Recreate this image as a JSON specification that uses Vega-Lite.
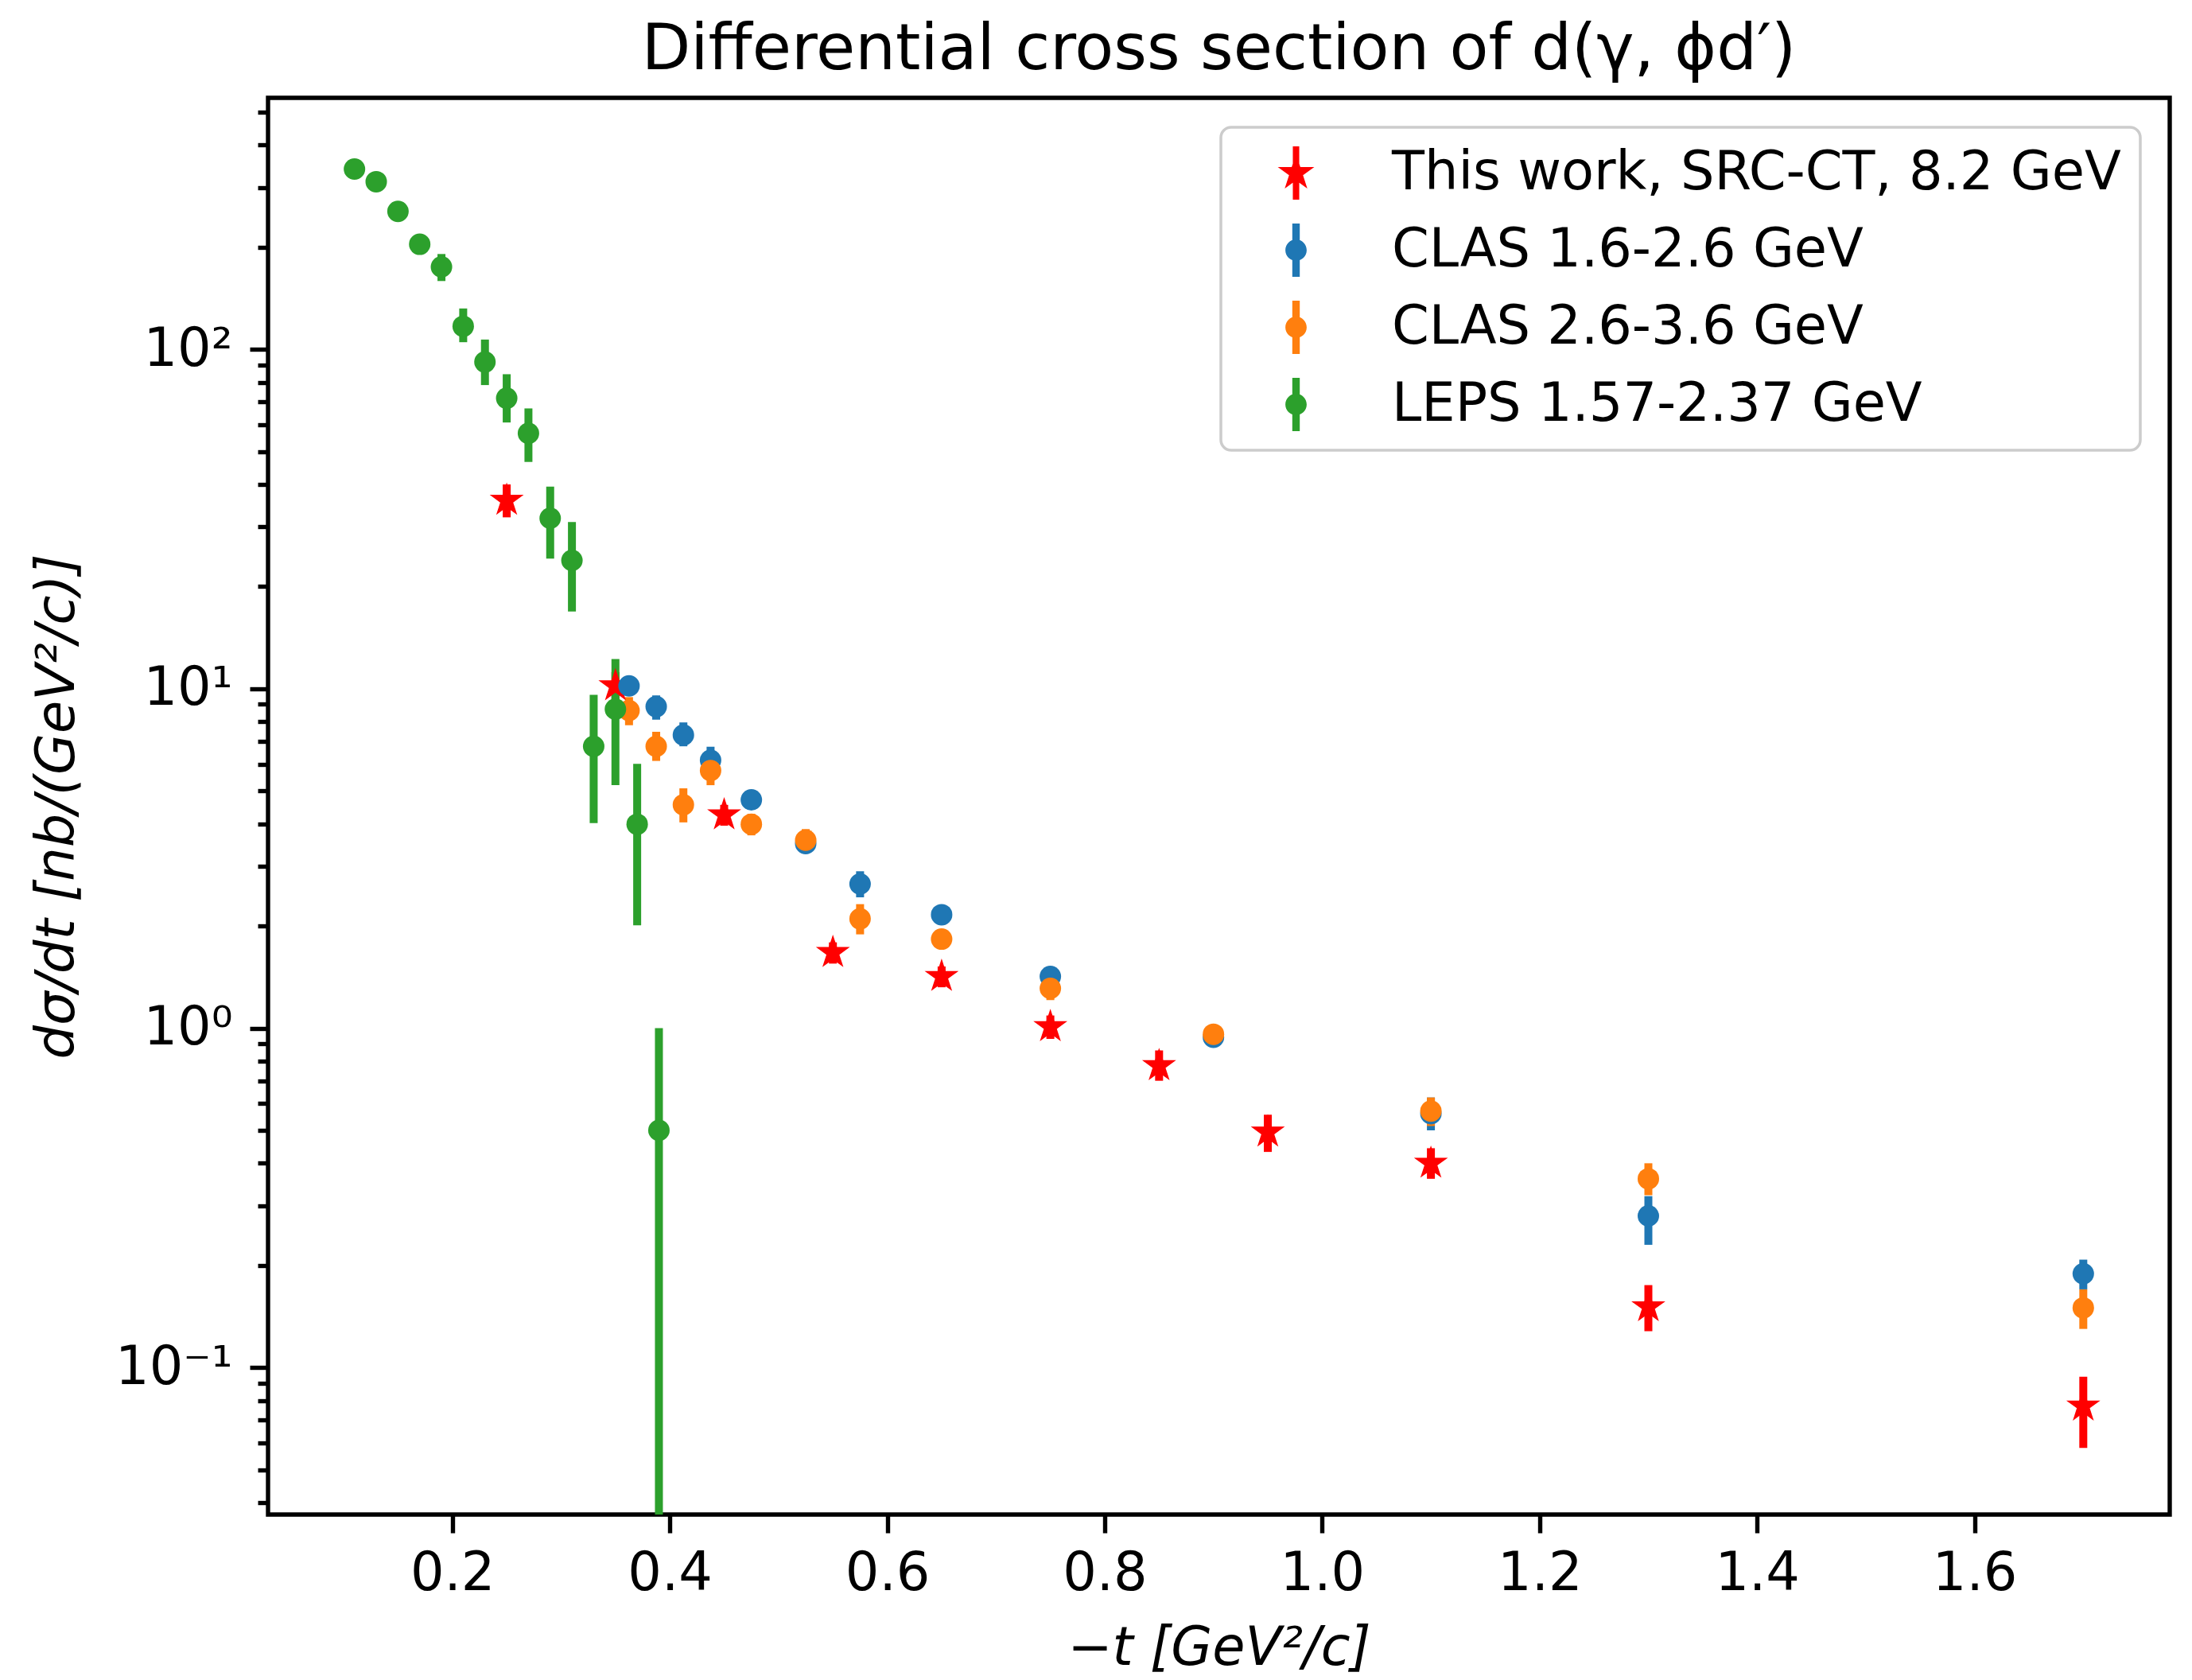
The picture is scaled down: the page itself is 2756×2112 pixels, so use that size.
{
  "$schema": "https://vega.github.io/schema/vega-lite/v6.json",
  "width": 2391,
  "height": 1781,
  "autosize": {"type": "none"},
  "padding": {"left": 337, "top": 123, "right": 28, "bottom": 208},
  "background": "white",
  "config": {
    "view": {"stroke": "black", "strokeWidth": 5.4},
    "font": "DejaVu Sans",
    "axis": {
      "grid": false, "domain": false, "tickColor": "black", "tickWidth": 5.4,
      "labelColor": "black", "labelFont": "DejaVu Sans", "labelFontSize": 67,
      "titleFont": "DejaVu Sans", "titleFontSize": 67, "titleFontWeight": "normal",
      "titleFontStyle": "italic", "titleColor": "black"
    }
  },
  "title": {
    "text": "Differential cross section of d(γ, ϕd′)",
    "fontSize": 80, "font": "DejaVu Sans", "fontWeight": "normal",
    "anchor": "middle", "frame": "group", "offset": 3, "color": "black"
  },
  "data": {
    "values": [
      {"series": "This work, SRC-CT, 8.2 GeV", "t": 0.25, "v": 35.9, "lo": 32.0, "hi": 40.0},
      {"series": "This work, SRC-CT, 8.2 GeV", "t": 0.35, "v": 10.2, "lo": 9.2, "hi": 11.2},
      {"series": "This work, SRC-CT, 8.2 GeV", "t": 0.45, "v": 4.25, "lo": 3.95, "hi": 4.55},
      {"series": "This work, SRC-CT, 8.2 GeV", "t": 0.55, "v": 1.67, "lo": 1.55, "hi": 1.79},
      {"series": "This work, SRC-CT, 8.2 GeV", "t": 0.65, "v": 1.42, "lo": 1.32, "hi": 1.52},
      {"series": "This work, SRC-CT, 8.2 GeV", "t": 0.75, "v": 1.01, "lo": 0.93, "hi": 1.09},
      {"series": "This work, SRC-CT, 8.2 GeV", "t": 0.85, "v": 0.775, "lo": 0.70, "hi": 0.86},
      {"series": "This work, SRC-CT, 8.2 GeV", "t": 0.95, "v": 0.494, "lo": 0.432, "hi": 0.556},
      {"series": "This work, SRC-CT, 8.2 GeV", "t": 1.10, "v": 0.40, "lo": 0.36, "hi": 0.443},
      {"series": "This work, SRC-CT, 8.2 GeV", "t": 1.30, "v": 0.151, "lo": 0.128, "hi": 0.175},
      {"series": "This work, SRC-CT, 8.2 GeV", "t": 1.70, "v": 0.077, "lo": 0.058, "hi": 0.094},
      {"series": "CLAS 1.6-2.6 GeV", "t": 0.3625, "v": 10.2, "lo": 9.7, "hi": 10.7},
      {"series": "CLAS 1.6-2.6 GeV", "t": 0.3875, "v": 8.86, "lo": 8.11, "hi": 9.56},
      {"series": "CLAS 1.6-2.6 GeV", "t": 0.4125, "v": 7.31, "lo": 6.77, "hi": 7.96},
      {"series": "CLAS 1.6-2.6 GeV", "t": 0.4375, "v": 6.16, "lo": 5.65, "hi": 6.75},
      {"series": "CLAS 1.6-2.6 GeV", "t": 0.475, "v": 4.71, "lo": 4.45, "hi": 4.97},
      {"series": "CLAS 1.6-2.6 GeV", "t": 0.525, "v": 3.50, "lo": 3.30, "hi": 3.70},
      {"series": "CLAS 1.6-2.6 GeV", "t": 0.575, "v": 2.66, "lo": 2.43, "hi": 2.90},
      {"series": "CLAS 1.6-2.6 GeV", "t": 0.65, "v": 2.16, "lo": 2.02, "hi": 2.30},
      {"series": "CLAS 1.6-2.6 GeV", "t": 0.75, "v": 1.42, "lo": 1.32, "hi": 1.52},
      {"series": "CLAS 1.6-2.6 GeV", "t": 0.90, "v": 0.94, "lo": 0.89, "hi": 0.99},
      {"series": "CLAS 1.6-2.6 GeV", "t": 1.10, "v": 0.56, "lo": 0.50, "hi": 0.625},
      {"series": "CLAS 1.6-2.6 GeV", "t": 1.30, "v": 0.28, "lo": 0.23, "hi": 0.32},
      {"series": "CLAS 1.6-2.6 GeV", "t": 1.70, "v": 0.189, "lo": 0.170, "hi": 0.208},
      {"series": "CLAS 2.6-3.6 GeV", "t": 0.3625, "v": 8.63, "lo": 7.81, "hi": 9.45},
      {"series": "CLAS 2.6-3.6 GeV", "t": 0.3875, "v": 6.77, "lo": 6.13, "hi": 7.47},
      {"series": "CLAS 2.6-3.6 GeV", "t": 0.4125, "v": 4.55, "lo": 4.04, "hi": 5.09},
      {"series": "CLAS 2.6-3.6 GeV", "t": 0.4375, "v": 5.74, "lo": 5.20, "hi": 6.30},
      {"series": "CLAS 2.6-3.6 GeV", "t": 0.475, "v": 3.99, "lo": 3.70, "hi": 4.28},
      {"series": "CLAS 2.6-3.6 GeV", "t": 0.525, "v": 3.58, "lo": 3.30, "hi": 3.86},
      {"series": "CLAS 2.6-3.6 GeV", "t": 0.575, "v": 2.10, "lo": 1.89, "hi": 2.32},
      {"series": "CLAS 2.6-3.6 GeV", "t": 0.65, "v": 1.83, "lo": 1.72, "hi": 1.94},
      {"series": "CLAS 2.6-3.6 GeV", "t": 0.75, "v": 1.31, "lo": 1.21, "hi": 1.41},
      {"series": "CLAS 2.6-3.6 GeV", "t": 0.90, "v": 0.96, "lo": 0.91, "hi": 1.01},
      {"series": "CLAS 2.6-3.6 GeV", "t": 1.10, "v": 0.57, "lo": 0.515, "hi": 0.625},
      {"series": "CLAS 2.6-3.6 GeV", "t": 1.30, "v": 0.36, "lo": 0.322, "hi": 0.40},
      {"series": "CLAS 2.6-3.6 GeV", "t": 1.70, "v": 0.150, "lo": 0.130, "hi": 0.170},
      {"series": "LEPS 1.57-2.37 GeV", "t": 0.11, "v": 340, "lo": 330, "hi": 350},
      {"series": "LEPS 1.57-2.37 GeV", "t": 0.13, "v": 312, "lo": 302, "hi": 322},
      {"series": "LEPS 1.57-2.37 GeV", "t": 0.15, "v": 255, "lo": 246, "hi": 264},
      {"series": "LEPS 1.57-2.37 GeV", "t": 0.17, "v": 204, "lo": 195, "hi": 213},
      {"series": "LEPS 1.57-2.37 GeV", "t": 0.19, "v": 175, "lo": 159, "hi": 191},
      {"series": "LEPS 1.57-2.37 GeV", "t": 0.21, "v": 117, "lo": 105, "hi": 132},
      {"series": "LEPS 1.57-2.37 GeV", "t": 0.23, "v": 91.8, "lo": 78.5, "hi": 106.9},
      {"series": "LEPS 1.57-2.37 GeV", "t": 0.25, "v": 71.8, "lo": 60.9, "hi": 84.5},
      {"series": "LEPS 1.57-2.37 GeV", "t": 0.27, "v": 56.6, "lo": 46.6, "hi": 67.0},
      {"series": "LEPS 1.57-2.37 GeV", "t": 0.29, "v": 31.8, "lo": 24.2, "hi": 39.4},
      {"series": "LEPS 1.57-2.37 GeV", "t": 0.31, "v": 23.9, "lo": 16.9, "hi": 31.0},
      {"series": "LEPS 1.57-2.37 GeV", "t": 0.33, "v": 6.77, "lo": 4.02, "hi": 9.6},
      {"series": "LEPS 1.57-2.37 GeV", "t": 0.35, "v": 8.71, "lo": 5.2, "hi": 12.24},
      {"series": "LEPS 1.57-2.37 GeV", "t": 0.37, "v": 3.99, "lo": 2.01, "hi": 6.01},
      {"series": "LEPS 1.57-2.37 GeV", "t": 0.39, "v": 0.5, "lo": 0.0001, "hi": 1.0}
    ]
  },
  "layer": [
    {
      "mark": {"type": "rule", "strokeWidth": 10, "clip": true},
      "encoding": {
        "x": {
          "field": "t", "type": "quantitative",
          "scale": {"domain": [0.0305, 1.7795], "nice": false, "zero": false},
          "axis": {
            "title": "−t [GeV²/c]",
            "values": [0.2, 0.4, 0.6, 0.8, 1.0, 1.2, 1.4, 1.6],
            "format": ".1f", "tickSize": 23, "labelPadding": 18,
            "titlePadding": 28, "labelFlush": false
          }
        },
        "y": {
          "field": "lo", "type": "quantitative",
          "scale": {"type": "log", "domain": [0.0369, 551], "nice": false},
          "axis": {
            "title": "dσ/dt [nb/(GeV²/c)]",
            "values": [0.04, 0.05, 0.06, 0.07, 0.08, 0.09, 0.1, 0.2, 0.3, 0.4, 0.5, 0.6, 0.7, 0.8, 0.9, 1, 2, 3, 4, 5, 6, 7, 8, 9, 10, 20, 30, 40, 50, 60, 70, 80, 90, 100, 200, 300, 400, 500],
            "labelExpr": "datum.value == 100 ? '10²' : datum.value == 10 ? '10¹' : datum.value == 1 ? '10⁰' : datum.value == 0.1 ? '10⁻¹' : ''",
            "tickSize": {"condition": {"test": "abs(log(datum.value)/LN10 - round(log(datum.value)/LN10)) < 0.001", "value": 23}, "value": 13},
            "labelPadding": 22, "titlePadding": 38, "labelOverlap": false
          }
        },
        "y2": {"field": "hi"},
        "color": {
          "condition": [
            {"test": "datum.series === 'This work, SRC-CT, 8.2 GeV'", "value": "#ff0000"},
            {"test": "datum.series === 'CLAS 1.6-2.6 GeV'", "value": "#1f77b4"},
            {"test": "datum.series === 'CLAS 2.6-3.6 GeV'", "value": "#ff7f0e"}
          ],
          "value": "#2ca02c"
        }
      }
    },
    {
      "mark": {"type": "point", "filled": true, "opacity": 0},
      "encoding": {
        "x": {"field": "t", "type": "quantitative"},
        "y": {"field": "v", "type": "quantitative"},
        "color": {
          "field": "series", "type": "nominal",
          "scale": {
            "domain": ["This work, SRC-CT, 8.2 GeV", "CLAS 1.6-2.6 GeV", "CLAS 2.6-3.6 GeV", "LEPS 1.57-2.37 GeV"],
            "range": ["#ff0000", "#1f77b4", "#ff7f0e", "#2ca02c"]
          },
          "legend": {
            "title": null, "orient": "top-right", "offset": 37, "padding": 24, "rowPadding": 29,
            "symbolSize": 4489, "symbolOpacity": 1, "symbolStrokeWidth": 0, "symbolOffset": 37,
            "labelOffset": 87, "labelFontSize": 67, "labelFont": "DejaVu Sans", "labelColor": "black",
            "labelLimit": 2000, "fillColor": "white", "strokeColor": "#cccccc",
            "cornerRadius": 13,
            "encode": {"legend": {"update": {"strokeWidth": {"value": 3.5}}}}
          }
        },
        "shape": {
          "field": "series", "type": "nominal",
          "scale": {
            "domain": ["This work, SRC-CT, 8.2 GeV", "CLAS 1.6-2.6 GeV", "CLAS 2.6-3.6 GeV", "LEPS 1.57-2.37 GeV"],
            "range": [
              "M-0.12,-1L0.12,-1L0.12,1L-0.12,1Z M0,-0.72L0.162,-0.223L0.685,-0.223L0.262,0.085L0.423,0.582L0,0.275L-0.423,0.582L-0.262,0.085L-0.685,-0.223L-0.162,-0.223Z",
              "M-0.14,-1L0.14,-1L0.14,1L-0.14,1Z M0.4,0A0.4,0.4 0 1,1 -0.4,0A0.4,0.4 0 1,1 0.4,0Z",
              "M-0.14,-1L0.14,-1L0.14,1L-0.14,1Z M0.4,0A0.4,0.4 0 1,1 -0.4,0A0.4,0.4 0 1,1 0.4,0Z",
              "M-0.14,-1L0.14,-1L0.14,1L-0.14,1Z M0.4,0A0.4,0.4 0 1,1 -0.4,0A0.4,0.4 0 1,1 0.4,0Z"
            ]
          },
          "legend": {
            "title": null, "orient": "top-right", "offset": 37, "padding": 24, "rowPadding": 29,
            "symbolSize": 4489, "symbolOpacity": 1, "symbolStrokeWidth": 0, "symbolOffset": 37,
            "labelOffset": 87, "labelFontSize": 67, "labelFont": "DejaVu Sans", "labelColor": "black",
            "labelLimit": 2000, "fillColor": "white", "strokeColor": "#cccccc",
            "cornerRadius": 13,
            "encode": {"legend": {"update": {"strokeWidth": {"value": 3.5}}}}
          }
        }
      }
    },
    {
      "transform": [{"filter": "datum.series === 'This work, SRC-CT, 8.2 GeV'"}],
      "mark": {
        "type": "point", "filled": true, "opacity": 1, "size": 2025, "color": "#ff0000",
        "shape": "M0,-1L0.225,-0.309L0.951,-0.309L0.363,0.118L0.588,0.809L0,0.382L-0.588,0.809L-0.363,0.118L-0.951,-0.309L-0.225,-0.309Z"
      },
      "encoding": {
        "x": {"field": "t", "type": "quantitative"},
        "y": {"field": "v", "type": "quantitative"}
      }
    },
    {
      "transform": [{"filter": "datum.series !== 'This work, SRC-CT, 8.2 GeV'"}],
      "mark": {"type": "point", "filled": true, "opacity": 1, "size": 729, "shape": "circle"},
      "encoding": {
        "x": {"field": "t", "type": "quantitative"},
        "y": {"field": "v", "type": "quantitative"},
        "color": {
          "condition": [
            {"test": "datum.series === 'CLAS 1.6-2.6 GeV'", "value": "#1f77b4"},
            {"test": "datum.series === 'CLAS 2.6-3.6 GeV'", "value": "#ff7f0e"}
          ],
          "value": "#2ca02c"
        }
      }
    }
  ]
}
